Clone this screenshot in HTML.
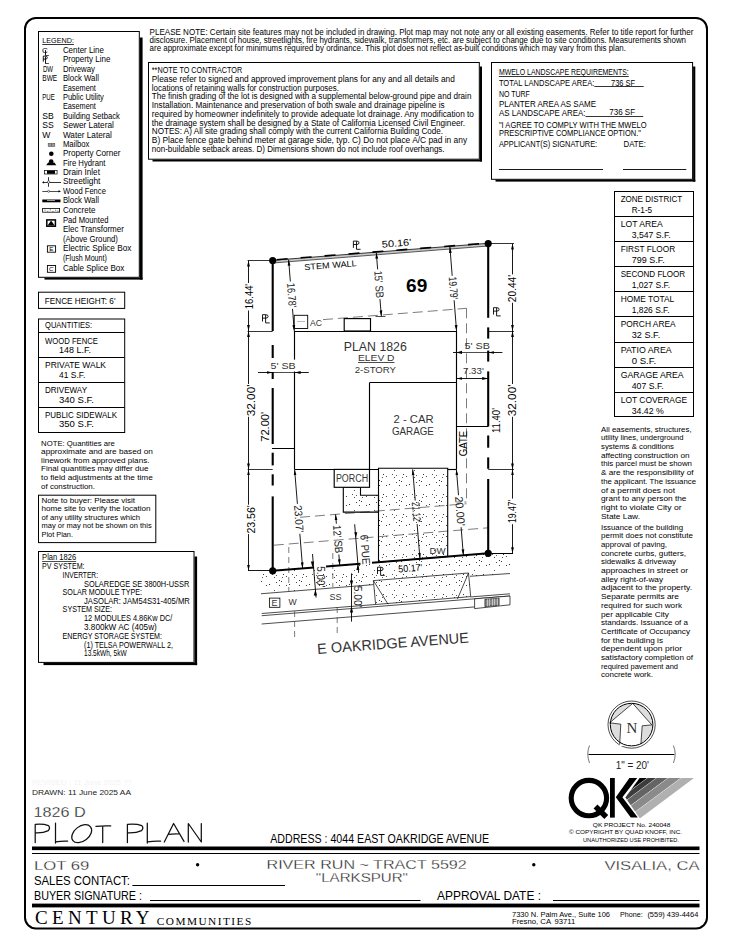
<!DOCTYPE html>
<html><head><meta charset="utf-8"><style>
html,body{margin:0;padding:0;background:#fff;}
svg{display:block;}
text{font-family:"Liberation Sans", sans-serif;}
</style></head><body>
<svg width="731" height="948" viewBox="0 0 731 948">
<defs>
<pattern id="stip" width="20" height="20" patternUnits="userSpaceOnUse">
<rect x="3" y="14" width="1" height="1" fill="#333"/><rect x="2" y="17" width="1" height="1" fill="#555"/><rect x="6" y="5" width="1" height="1" fill="#444"/><rect x="14" y="17" width="1" height="1" fill="#444"/><rect x="1" y="1" width="1" height="1" fill="#333"/><rect x="14" y="10" width="1" height="1" fill="#555"/><rect x="19" y="0" width="1" height="1" fill="#333"/><rect x="16" y="2" width="1" height="1" fill="#444"/><rect x="16" y="15" width="1" height="1" fill="#555"/><rect x="6" y="16" width="1" height="1" fill="#444"/><rect x="19" y="5" width="1" height="1" fill="#444"/><rect x="12" y="14" width="1" height="1" fill="#555"/><rect x="9" y="4" width="1" height="1" fill="#333"/>
</pattern>
<marker id="ar" viewBox="0 0 6 4" refX="6" refY="2" markerWidth="6" markerHeight="4" markerUnits="userSpaceOnUse" orient="auto-start-reverse"><path d="M0,0.6 L6,2 L0,3.4 z" fill="#000"/></marker>
</defs>
<rect x="25" y="18" width="682" height="910.5" rx="11" ry="11" fill="none" stroke="#000" stroke-width="2"/>
<text x="149.60" y="34.90" font-size="8.3" textLength="543.80" lengthAdjust="spacingAndGlyphs" >PLEASE NOTE:  Certain site features may not be included in drawing.  Plot map may not note any or all existing easements. Refer to title report for further</text>
<text x="149.60" y="43.30" font-size="8.3" textLength="536.40" lengthAdjust="spacingAndGlyphs" >disclosure.  Placement of house, streetlights, fire hydrants, sidewalk, transformers, etc. are subject to change due to site conditions.  Measurements shown</text>
<text x="149.60" y="51.20" font-size="8.3" textLength="476.30" lengthAdjust="spacingAndGlyphs" >are approximate except for minimums required by ordinance.  This plot does not reflect as-built conditions which may vary from this plan.</text>
<rect x="148.50" y="62.50" width="330.80" height="96.70" fill="#fff" stroke="#000" stroke-width="1" />
<rect x="479.80" y="66.50" width="2.20" height="95.00" fill="#000"/>
<rect x="152.50" y="159.70" width="329.50" height="1.80" fill="#000"/>
<text x="151.80" y="73.10" font-size="8.3" textLength="90.40" lengthAdjust="spacingAndGlyphs" >**NOTE TO CONTRACTOR</text>
<text x="151.80" y="81.70" font-size="8.3" textLength="303.00" lengthAdjust="spacingAndGlyphs" >Please refer to signed and approved improvement plans for any and all details and</text>
<text x="151.80" y="90.60" font-size="8.3" textLength="187.20" lengthAdjust="spacingAndGlyphs" >locations of retaining walls for construction purposes.</text>
<text x="151.80" y="99.40" font-size="8.3" textLength="319.60" lengthAdjust="spacingAndGlyphs" >The finish grading of the lot is designed with a supplemental below-ground pipe and drain</text>
<text x="151.80" y="108.10" font-size="8.3" textLength="292.80" lengthAdjust="spacingAndGlyphs" >Installation.  Maintenance and preservation of both swale and drainage pipeline is</text>
<text x="151.80" y="116.80" font-size="8.3" textLength="322.10" lengthAdjust="spacingAndGlyphs" >required by homeowner indefinitely to provide adequate lot drainage.  Any modification to</text>
<text x="151.80" y="125.60" font-size="8.3" textLength="313.20" lengthAdjust="spacingAndGlyphs" >the drainage system shall be designed by a State of California Licensed Civil Engineer.</text>
<text x="151.80" y="134.30" font-size="8.3" textLength="291.30" lengthAdjust="spacingAndGlyphs" >NOTES:  A) All site grading shall comply with the current California Building Code.</text>
<text x="151.80" y="143.40" font-size="8.3" textLength="315.30" lengthAdjust="spacingAndGlyphs" >B) Place fence gate behind meter at garage side, typ.  C) Do not place A/C pad in any</text>
<text x="151.80" y="152.40" font-size="8.3" textLength="292.80" lengthAdjust="spacingAndGlyphs" >non-buildable setback areas.  D) Dimensions shown do not include roof overhangs.</text>
<rect x="491.50" y="62.50" width="201.10" height="116.80" fill="#fff" stroke="#000" stroke-width="1" />
<rect x="693.10" y="66.50" width="2.20" height="115.10" fill="#000"/>
<rect x="495.50" y="179.80" width="199.80" height="1.80" fill="#000"/>
<text x="498.90" y="75.20" font-size="8.5" textLength="129.90" lengthAdjust="spacingAndGlyphs" >MWELO LANDSCAPE REQUIREMENTS:</text>
<line x1="498.90" y1="76.50" x2="628.80" y2="76.50" stroke="#000" stroke-width="0.8" />
<text x="498.90" y="86.20" font-size="8.5" textLength="95.40" lengthAdjust="spacingAndGlyphs" >TOTAL LANDSCAPE AREA:</text>
<line x1="594.30" y1="86.50" x2="643.70" y2="86.50" stroke="#000" stroke-width="0.8" />
<text x="611.00" y="85.60" font-size="8.5" textLength="24.00" lengthAdjust="spacingAndGlyphs" >736 SF</text>
<text x="498.90" y="96.80" font-size="8.5" textLength="31.00" lengthAdjust="spacingAndGlyphs" >NO TURF</text>
<text x="498.90" y="107.40" font-size="8.5" textLength="97.10" lengthAdjust="spacingAndGlyphs" >PLANTER AREA AS SAME</text>
<text x="498.90" y="115.50" font-size="8.5" textLength="86.60" lengthAdjust="spacingAndGlyphs" >AS LANDSCAPE AREA:</text>
<line x1="585.50" y1="116.50" x2="643.20" y2="116.50" stroke="#000" stroke-width="0.8" />
<text x="609.30" y="115.00" font-size="8.5" textLength="25.80" lengthAdjust="spacingAndGlyphs" >736 SF</text>
<text x="498.90" y="127.50" font-size="8.5" textLength="147.70" lengthAdjust="spacingAndGlyphs" >"I AGREE TO COMPLY WITH THE MWELO</text>
<text x="498.90" y="136.20" font-size="8.5" textLength="142.00" lengthAdjust="spacingAndGlyphs" >PRESCRIPTIVE COMPLIANCE OPTION."</text>
<text x="498.90" y="147.10" font-size="8.5" textLength="98.30" lengthAdjust="spacingAndGlyphs" >APPLICANT(S) SIGNATURE:</text>
<text x="623.60" y="147.10" font-size="8.5" textLength="22.40" lengthAdjust="spacingAndGlyphs" >DATE:</text>
<line x1="498.90" y1="169.50" x2="603.00" y2="169.50" stroke="#000" stroke-width="0.9" />
<line x1="623.00" y1="169.50" x2="686.30" y2="169.50" stroke="#000" stroke-width="0.9" />
<rect x="38.50" y="31.50" width="100.80" height="245.80" fill="#fff" stroke="#000" stroke-width="1" />
<rect x="139.80" y="37.50" width="2.80" height="242.10" fill="#000"/>
<rect x="44.50" y="277.80" width="98.10" height="1.80" fill="#000"/>
<text x="42.30" y="43.00" font-size="7.8" textLength="31.60" lengthAdjust="spacingAndGlyphs" >LEGEND:</text>
<line x1="42.30" y1="44.50" x2="73.90" y2="44.50" stroke="#000" stroke-width="0.8" />
<text x="41.90" y="52.80" font-size="8" >C</text>
<line x1="45.50" y1="50.10" x2="45.50" y2="55.50" stroke="#000" stroke-width="0.9" />
<line x1="45.50" y1="55.50" x2="48.90" y2="55.50" stroke="#000" stroke-width="0.7" />
<text x="62.90" y="52.80" font-size="8.6" textLength="41.00" lengthAdjust="spacingAndGlyphs" >Center Line</text>
<path d="M43.3,61.699999999999996 V56.099999999999994 H45.5 Q47.3,56.099999999999994 47.3,57.599999999999994 Q47.3,59.099999999999994 45.5,59.099999999999994 H43.3" fill="none" stroke="#000" stroke-width="0.9"/>
<line x1="45.50" y1="56.50" x2="45.50" y2="63.70" stroke="#000" stroke-width="0.9" />
<line x1="45.50" y1="63.50" x2="48.90" y2="63.50" stroke="#000" stroke-width="0.7" />
<text x="62.90" y="62.30" font-size="8.6" textLength="47.50" lengthAdjust="spacingAndGlyphs" >Property Line</text>
<text x="42.90" y="71.60" font-size="8.6" textLength="10.10" lengthAdjust="spacingAndGlyphs" >DW</text>
<text x="62.90" y="71.60" font-size="8.6" textLength="32.00" lengthAdjust="spacingAndGlyphs" >Driveway</text>
<text x="42.30" y="81.00" font-size="8.6" textLength="14.80" lengthAdjust="spacingAndGlyphs" >BWE</text>
<text x="62.90" y="81.00" font-size="8.6" textLength="36.00" lengthAdjust="spacingAndGlyphs" >Block Wall</text>
<text x="62.90" y="90.50" font-size="8.6" textLength="33.00" lengthAdjust="spacingAndGlyphs" >Easement</text>
<text x="42.30" y="99.90" font-size="8.6" textLength="12.50" lengthAdjust="spacingAndGlyphs" >PUE</text>
<text x="62.90" y="99.90" font-size="8.6" textLength="41.00" lengthAdjust="spacingAndGlyphs" >Public Utility</text>
<text x="62.90" y="109.30" font-size="8.6" textLength="33.00" lengthAdjust="spacingAndGlyphs" >Easement</text>
<text x="42.30" y="118.60" font-size="8.6" >SB</text>
<text x="62.90" y="118.60" font-size="8.6" textLength="57.00" lengthAdjust="spacingAndGlyphs" >Building Setback</text>
<text x="42.30" y="128.10" font-size="8.6" >SS</text>
<text x="62.90" y="128.10" font-size="8.6" textLength="51.00" lengthAdjust="spacingAndGlyphs" >Sewer Lateral</text>
<text x="42.30" y="137.60" font-size="8.6" >W</text>
<text x="62.90" y="137.60" font-size="8.6" textLength="49.00" lengthAdjust="spacingAndGlyphs" >Water Lateral</text>
<text x="62.90" y="146.90" font-size="8.6" textLength="26.50" lengthAdjust="spacingAndGlyphs" >Mailbox</text>
<text x="62.90" y="156.20" font-size="8.6" textLength="57.50" lengthAdjust="spacingAndGlyphs" >Property Corner</text>
<text x="62.90" y="165.60" font-size="8.6" textLength="42.50" lengthAdjust="spacingAndGlyphs" >Fire Hydrant</text>
<text x="62.90" y="174.80" font-size="8.6" textLength="37.00" lengthAdjust="spacingAndGlyphs" >Drain Inlet</text>
<text x="62.90" y="184.30" font-size="8.6" textLength="37.50" lengthAdjust="spacingAndGlyphs" >Streetlight</text>
<text x="62.90" y="193.60" font-size="8.6" textLength="43.00" lengthAdjust="spacingAndGlyphs" >Wood Fence</text>
<text x="62.90" y="203.20" font-size="8.6" textLength="36.00" lengthAdjust="spacingAndGlyphs" >Block Wall</text>
<text x="62.90" y="212.50" font-size="8.6" textLength="32.50" lengthAdjust="spacingAndGlyphs" >Concrete</text>
<text x="62.90" y="222.50" font-size="8.6" textLength="45.50" lengthAdjust="spacingAndGlyphs" >Pad Mounted</text>
<text x="62.90" y="232.00" font-size="8.6" textLength="61.00" lengthAdjust="spacingAndGlyphs" >Elec Transformer</text>
<text x="62.90" y="241.50" font-size="8.6" textLength="55.00" lengthAdjust="spacingAndGlyphs" >(Above Ground)</text>
<text x="62.90" y="251.10" font-size="8.6" textLength="68.50" lengthAdjust="spacingAndGlyphs" >Electric Splice Box</text>
<text x="62.90" y="260.90" font-size="8.6" textLength="44.00" lengthAdjust="spacingAndGlyphs" >(Flush Mount)</text>
<text x="62.90" y="270.70" font-size="8.6" textLength="61.50" lengthAdjust="spacingAndGlyphs" >Cable Splice Box</text>
<rect x="48.20" y="143.40" width="6.60" height="3.00" fill="#999" stroke="#555" stroke-width="0.6" />
<line x1="51.50" y1="143.40" x2="51.50" y2="146.40" stroke="#444" stroke-width="0.5" />
<circle cx="51.30" cy="153.80" r="2.30" fill="#000" stroke="none" stroke-width="1"/>
<circle cx="51.20" cy="161.60" r="2.30" fill="#000" stroke="none" stroke-width="1"/>
<polygon points="46.20,165.20 56.30,165.20 54.40,162.60 48.10,162.60" fill="#000" stroke="none" stroke-width="1" />
<rect x="44.50" y="170.40" width="12.60" height="3.60" fill="#fff" stroke="#000" stroke-width="0.7" />
<rect x="47.00" y="170.60" width="8.00" height="3.20" fill="#000"/>
<line x1="42.30" y1="182.50" x2="61.00" y2="182.50" stroke="#000" stroke-width="0.8" />
<line x1="48.50" y1="177.20" x2="48.50" y2="186.80" stroke="#000" stroke-width="0.8" />
<circle cx="48.60" cy="182.00" r="1.20" fill="#fff" stroke="#000" stroke-width="0.5"/>
<line x1="43.50" y1="181.00" x2="43.50" y2="183.50" stroke="#000" stroke-width="0.6" />
<line x1="42.30" y1="191.50" x2="60.00" y2="191.50" stroke="#000" stroke-width="0.7" />
<circle cx="48.60" cy="191.30" r="1.00" fill="#fff" stroke="#000" stroke-width="0.5"/>
<polygon points="61.00,191.30 58.50,190.20 58.50,192.40" fill="#000" stroke="none" stroke-width="1" />
<rect x="42.30" y="199.50" width="18.20" height="2.80" fill="#000"/>
<line x1="47.00" y1="200.50" x2="55.00" y2="200.50" stroke="#fff" stroke-width="0.6" />
<rect x="42.60" y="208.50" width="17.00" height="3.70" fill="#fff" stroke="#000" stroke-width="0.8" />
<rect x="44.50" y="209.60" width="1.10" height="0.90" fill="#555"/>
<rect x="47.20" y="210.80" width="1.10" height="0.90" fill="#555"/>
<rect x="49.80" y="209.40" width="1.10" height="0.90" fill="#555"/>
<rect x="52.50" y="210.90" width="1.10" height="0.90" fill="#555"/>
<rect x="55.10" y="209.70" width="1.10" height="0.90" fill="#555"/>
<rect x="57.40" y="210.60" width="1.10" height="0.90" fill="#555"/>
<rect x="46.80" y="219.90" width="8.60" height="6.30" fill="#fff" stroke="#000" stroke-width="1.5" />
<polygon points="47.60,225.60 51.10,220.40 54.60,225.60" fill="#000" stroke="none" stroke-width="1" />
<rect x="47.40" y="245.80" width="8.20" height="6.40" fill="#fff" stroke="#000" stroke-width="0.9" />
<text x="49.20" y="251.20" font-size="6.2" >E</text>
<rect x="47.40" y="265.50" width="8.20" height="6.80" fill="#fff" stroke="#000" stroke-width="0.9" />
<text x="49.00" y="271.00" font-size="6.2" font-style="italic" >C</text>
<rect x="38.50" y="292.20" width="86.20" height="16.20" fill="none" stroke="#000" stroke-width="1" />
<text x="44.80" y="303.70" font-size="8.2" textLength="70.70" lengthAdjust="spacingAndGlyphs" >FENCE HEIGHT: 6'</text>
<rect x="38.50" y="319.00" width="86.20" height="113.50" fill="none" stroke="#000" stroke-width="1" />
<line x1="38.50" y1="332.50" x2="124.70" y2="332.50" stroke="#000" stroke-width="1" />
<line x1="38.50" y1="357.50" x2="124.70" y2="357.50" stroke="#000" stroke-width="1" />
<line x1="38.50" y1="382.50" x2="124.70" y2="382.50" stroke="#000" stroke-width="1" />
<line x1="38.50" y1="407.50" x2="124.70" y2="407.50" stroke="#000" stroke-width="1" />
<text x="45.10" y="328.00" font-size="8.2" textLength="47.00" lengthAdjust="spacingAndGlyphs" >QUANTITIES:</text>
<text x="45.00" y="343.50" font-size="8.2" textLength="53.00" lengthAdjust="spacingAndGlyphs" >WOOD FENCE</text>
<text x="59.00" y="352.70" font-size="8.2" textLength="32.00" lengthAdjust="spacingAndGlyphs" >148 L.F.</text>
<text x="45.00" y="368.00" font-size="8.2" textLength="61.00" lengthAdjust="spacingAndGlyphs" >PRIVATE WALK</text>
<text x="59.00" y="377.60" font-size="8.2" textLength="26.40" lengthAdjust="spacingAndGlyphs" >41 S.F.</text>
<text x="45.00" y="393.00" font-size="8.2" textLength="42.00" lengthAdjust="spacingAndGlyphs" >DRIVEWAY</text>
<text x="59.00" y="402.60" font-size="8.2" textLength="35.00" lengthAdjust="spacingAndGlyphs" >340 S.F.</text>
<text x="45.00" y="417.60" font-size="8.2" textLength="72.00" lengthAdjust="spacingAndGlyphs" >PUBLIC SIDEWALK</text>
<text x="59.00" y="427.10" font-size="8.2" textLength="35.00" lengthAdjust="spacingAndGlyphs" >350 S.F.</text>
<text x="41.10" y="445.90" font-size="7.6" textLength="73.80" lengthAdjust="spacingAndGlyphs" >NOTE: Quantities are</text>
<text x="41.10" y="454.30" font-size="7.6" textLength="111.70" lengthAdjust="spacingAndGlyphs" >approximate and are based on</text>
<text x="41.10" y="462.70" font-size="7.6" textLength="108.40" lengthAdjust="spacingAndGlyphs" >linework from approved plans.</text>
<text x="41.10" y="471.40" font-size="7.6" textLength="107.40" lengthAdjust="spacingAndGlyphs" >Final quantities may differ due</text>
<text x="41.10" y="480.00" font-size="7.6" textLength="111.70" lengthAdjust="spacingAndGlyphs" >to field adjustments at the time</text>
<text x="41.10" y="488.60" font-size="7.6" textLength="53.90" lengthAdjust="spacingAndGlyphs" >of construction.</text>
<rect x="38.50" y="495.20" width="117.30" height="47.40" fill="none" stroke="#000" stroke-width="1" />
<text x="41.50" y="502.80" font-size="7.6" textLength="93.50" lengthAdjust="spacingAndGlyphs" >Note to buyer: Please visit</text>
<text x="41.50" y="511.20" font-size="7.6" textLength="109.00" lengthAdjust="spacingAndGlyphs" >home site to verify the location</text>
<text x="41.50" y="519.60" font-size="7.6" textLength="98.50" lengthAdjust="spacingAndGlyphs" >of any utility structures which</text>
<text x="41.50" y="528.00" font-size="7.6" textLength="110.20" lengthAdjust="spacingAndGlyphs" >may or may not be shown on this</text>
<text x="41.50" y="536.60" font-size="7.6" textLength="31.50" lengthAdjust="spacingAndGlyphs" >Plot Plan.</text>
<rect x="38.50" y="551.50" width="155.50" height="110.90" fill="#fff" stroke="#000" stroke-width="1" />
<rect x="194.50" y="556.50" width="2.60" height="108.60" fill="#000"/>
<rect x="43.50" y="662.90" width="153.60" height="2.20" fill="#000"/>
<text x="42.10" y="560.10" font-size="8.2" textLength="34.00" lengthAdjust="spacingAndGlyphs" >Plan 1826</text>
<line x1="42.10" y1="561.50" x2="76.20" y2="561.50" stroke="#000" stroke-width="0.7" />
<text x="42.10" y="569.40" font-size="8.2" textLength="42.40" lengthAdjust="spacingAndGlyphs" >PV SYSTEM:</text>
<text x="62.60" y="577.60" font-size="8.2" textLength="35.40" lengthAdjust="spacingAndGlyphs" >INVERTER:</text>
<text x="84.00" y="586.90" font-size="8.2" textLength="105.30" lengthAdjust="spacingAndGlyphs" >SOLAREDGE SE 3800H-USSR</text>
<text x="62.60" y="595.20" font-size="8.2" textLength="79.40" lengthAdjust="spacingAndGlyphs" >SOLAR MODULE TYPE:</text>
<text x="84.00" y="603.70" font-size="8.2" textLength="105.80" lengthAdjust="spacingAndGlyphs" >JASOLAR: JAM54S31-405/MR</text>
<text x="62.60" y="612.40" font-size="8.2" textLength="49.40" lengthAdjust="spacingAndGlyphs" >SYSTEM SIZE:</text>
<text x="84.00" y="621.20" font-size="8.2" textLength="88.40" lengthAdjust="spacingAndGlyphs" >12 MODULES 4.86Kw DC/</text>
<text x="84.00" y="629.80" font-size="8.2" textLength="72.80" lengthAdjust="spacingAndGlyphs" >3.800kW AC (405w)</text>
<text x="62.60" y="639.00" font-size="8.2" textLength="99.40" lengthAdjust="spacingAndGlyphs" >ENERGY STORAGE SYSTEM:</text>
<text x="84.00" y="647.60" font-size="8.2" textLength="89.00" lengthAdjust="spacingAndGlyphs" >(1) TELSA POWERWALL 2,</text>
<text x="84.00" y="656.20" font-size="8.2" textLength="42.60" lengthAdjust="spacingAndGlyphs" >13.5kWh, 5kW</text>
<rect x="614.50" y="191.50" width="79.00" height="225.00" fill="none" stroke="#000" stroke-width="1" />
<text x="620.70" y="202.40" font-size="8.2" textLength="61.50" lengthAdjust="spacingAndGlyphs" >ZONE DISTRICT</text>
<text x="631.70" y="213.10" font-size="8.2" textLength="20.50" lengthAdjust="spacingAndGlyphs" >R-1-5</text>
<line x1="614.50" y1="216.50" x2="693.60" y2="216.50" stroke="#000" stroke-width="1" />
<text x="620.70" y="227.40" font-size="8.2" textLength="42.00" lengthAdjust="spacingAndGlyphs" >LOT AREA</text>
<text x="631.70" y="238.10" font-size="8.2" textLength="39.00" lengthAdjust="spacingAndGlyphs" >3,547 S.F.</text>
<line x1="614.50" y1="241.50" x2="693.60" y2="241.50" stroke="#000" stroke-width="1" />
<text x="620.70" y="252.40" font-size="8.2" textLength="54.50" lengthAdjust="spacingAndGlyphs" >FIRST FLOOR</text>
<text x="631.70" y="263.10" font-size="8.2" textLength="33.00" lengthAdjust="spacingAndGlyphs" >799 S.F.</text>
<line x1="614.50" y1="266.50" x2="693.60" y2="266.50" stroke="#000" stroke-width="1" />
<text x="620.70" y="277.40" font-size="8.2" textLength="64.50" lengthAdjust="spacingAndGlyphs" >SECOND FLOOR</text>
<text x="631.70" y="288.10" font-size="8.2" textLength="38.50" lengthAdjust="spacingAndGlyphs" >1,027 S.F.</text>
<line x1="614.50" y1="291.50" x2="693.60" y2="291.50" stroke="#000" stroke-width="1" />
<text x="620.70" y="302.40" font-size="8.2" textLength="53.50" lengthAdjust="spacingAndGlyphs" >HOME TOTAL</text>
<text x="631.70" y="313.10" font-size="8.2" textLength="38.00" lengthAdjust="spacingAndGlyphs" >1,826 S.F.</text>
<line x1="614.50" y1="316.50" x2="693.60" y2="316.50" stroke="#000" stroke-width="1" />
<text x="620.70" y="327.40" font-size="8.2" textLength="55.00" lengthAdjust="spacingAndGlyphs" >PORCH AREA</text>
<text x="631.70" y="338.10" font-size="8.2" textLength="28.50" lengthAdjust="spacingAndGlyphs" >32 S.F.</text>
<line x1="614.50" y1="342.50" x2="693.60" y2="342.50" stroke="#000" stroke-width="1" />
<text x="620.70" y="353.40" font-size="8.2" textLength="51.00" lengthAdjust="spacingAndGlyphs" >PATIO AREA</text>
<text x="631.70" y="364.10" font-size="8.2" textLength="24.50" lengthAdjust="spacingAndGlyphs" >0 S.F.</text>
<line x1="614.50" y1="367.50" x2="693.60" y2="367.50" stroke="#000" stroke-width="1" />
<text x="620.70" y="378.40" font-size="8.2" textLength="63.00" lengthAdjust="spacingAndGlyphs" >GARAGE AREA</text>
<text x="631.70" y="389.10" font-size="8.2" textLength="32.00" lengthAdjust="spacingAndGlyphs" >407 S.F.</text>
<line x1="614.50" y1="392.50" x2="693.60" y2="392.50" stroke="#000" stroke-width="1" />
<text x="620.70" y="403.40" font-size="8.2" textLength="66.50" lengthAdjust="spacingAndGlyphs" >LOT COVERAGE</text>
<text x="631.70" y="414.10" font-size="8.2" textLength="32.00" lengthAdjust="spacingAndGlyphs" >34.42 %</text>
<text x="601.00" y="431.70" font-size="7.8" textLength="90.60" lengthAdjust="spacingAndGlyphs" >All easements, structures,</text>
<text x="601.00" y="440.39" font-size="7.8" textLength="82.50" lengthAdjust="spacingAndGlyphs" >utility lines, underground</text>
<text x="601.00" y="449.08" font-size="7.8" textLength="73.00" lengthAdjust="spacingAndGlyphs" >systems &amp; conditions</text>
<text x="601.00" y="457.77" font-size="7.8" textLength="88.50" lengthAdjust="spacingAndGlyphs" >affecting construction on</text>
<text x="601.00" y="466.46" font-size="7.8" textLength="91.00" lengthAdjust="spacingAndGlyphs" >this parcel must be shown</text>
<text x="601.00" y="475.15" font-size="7.8" textLength="92.50" lengthAdjust="spacingAndGlyphs" >&amp; are the responsibility of</text>
<text x="601.00" y="483.84" font-size="7.8" textLength="95.00" lengthAdjust="spacingAndGlyphs" >the applicant. The issuance</text>
<text x="601.00" y="492.53" font-size="7.8" textLength="74.00" lengthAdjust="spacingAndGlyphs" >of a permit does not</text>
<text x="601.00" y="501.22" font-size="7.8" textLength="85.50" lengthAdjust="spacingAndGlyphs" >grant to any person the</text>
<text x="601.00" y="509.91" font-size="7.8" textLength="80.50" lengthAdjust="spacingAndGlyphs" >right to violate City or</text>
<text x="601.00" y="518.60" font-size="7.8" textLength="39.00" lengthAdjust="spacingAndGlyphs" >State Law.</text>
<text x="601.00" y="529.60" font-size="7.8" textLength="82.00" lengthAdjust="spacingAndGlyphs" >Issuance of the building</text>
<text x="601.00" y="538.29" font-size="7.8" textLength="92.00" lengthAdjust="spacingAndGlyphs" >permit does not constitute</text>
<text x="601.00" y="546.98" font-size="7.8" textLength="66.00" lengthAdjust="spacingAndGlyphs" >approval of paving,</text>
<text x="601.00" y="555.67" font-size="7.8" textLength="85.00" lengthAdjust="spacingAndGlyphs" >concrete curbs, gutters,</text>
<text x="601.00" y="564.36" font-size="7.8" textLength="75.00" lengthAdjust="spacingAndGlyphs" >sidewalks &amp; driveway</text>
<text x="601.00" y="573.05" font-size="7.8" textLength="87.00" lengthAdjust="spacingAndGlyphs" >approaches in street or</text>
<text x="601.00" y="581.74" font-size="7.8" textLength="62.00" lengthAdjust="spacingAndGlyphs" >alley right-of-way</text>
<text x="601.00" y="590.43" font-size="7.8" textLength="91.00" lengthAdjust="spacingAndGlyphs" >adjacent to the property.</text>
<text x="601.00" y="599.12" font-size="7.8" textLength="78.00" lengthAdjust="spacingAndGlyphs" >Separate permits are</text>
<text x="601.00" y="607.81" font-size="7.8" textLength="81.00" lengthAdjust="spacingAndGlyphs" >required for such work</text>
<text x="601.00" y="616.50" font-size="7.8" textLength="68.00" lengthAdjust="spacingAndGlyphs" >per applicable City</text>
<text x="601.00" y="625.19" font-size="7.8" textLength="87.00" lengthAdjust="spacingAndGlyphs" >standards. Issuance of a</text>
<text x="601.00" y="633.88" font-size="7.8" textLength="89.00" lengthAdjust="spacingAndGlyphs" >Certificate of Occupancy</text>
<text x="601.00" y="642.57" font-size="7.8" textLength="62.00" lengthAdjust="spacingAndGlyphs" >for the building is</text>
<text x="601.00" y="651.26" font-size="7.8" textLength="81.00" lengthAdjust="spacingAndGlyphs" >dependent upon prior</text>
<text x="601.00" y="659.95" font-size="7.8" textLength="92.00" lengthAdjust="spacingAndGlyphs" >satisfactory completion of</text>
<text x="601.00" y="668.64" font-size="7.8" textLength="77.00" lengthAdjust="spacingAndGlyphs" >required pavement and</text>
<text x="601.00" y="677.33" font-size="7.8" textLength="52.00" lengthAdjust="spacingAndGlyphs" >concrete work.</text>
<circle cx="631.60" cy="724.60" r="23.60" fill="#fff" stroke="#000" stroke-width="0.7"/>
<circle cx="631.60" cy="724.60" r="21.30" fill="#ddd" stroke="none" stroke-width="1"/>
<polygon points="632.70,703.40 651.80,724.90 642.20,725.80 640.90,746.00 619.70,746.00 620.80,724.20 609.60,722.80" fill="#fff" stroke="none" stroke-width="1" />
<polyline points="619.70,744.20 620.80,724.20 609.60,722.80 632.70,703.40 651.80,724.90 642.20,725.80 640.90,744.20" fill="none" stroke="#000" stroke-width="0.7" />
<circle cx="631.60" cy="724.60" r="21.30" fill="none" stroke="#000" stroke-width="1.0"/>
<text x="632.00" y="733.40" font-size="15" text-anchor="middle" style='font-family:"Liberation Serif", serif' fill="#333" >N</text>
<line x1="588.50" y1="754.50" x2="674.40" y2="754.50" stroke="#000" stroke-width="1" />
<path d="M589.5,745.5 Q586,754 589.5,763" fill="none" stroke="#555" stroke-width="0.8"/>
<path d="M673.4,745.5 Q677,754 673.4,763" fill="none" stroke="#555" stroke-width="0.8"/>
<text x="615.80" y="768.80" font-size="10.5" textLength="33.20" lengthAdjust="spacingAndGlyphs" fill="#222" >1" = 20'</text>
<circle cx="588.90" cy="798.10" r="17.70" fill="none" stroke="#000" stroke-width="5.1"/>
<line x1="595.5" y1="806.5" x2="606.3" y2="817" stroke="#000" stroke-width="5.5"/>
<rect x="610.00" y="778.00" width="4.80" height="39.60" fill="#000"/>
<polygon points="629.40,778.00 637.20,778.00 622.40,797.20 637.80,817.60 630.80,817.60 615.80,797.20" fill="#000" stroke="none" stroke-width="1" />
<clipPath id="qkclip"><polygon points="639.6,778 694,778 640.5,818 639.6,818 625.4,797.6"/></clipPath>
<g clip-path="url(#qkclip)">
<polygon points="630.00,778.00 647.00,778.00 593.00,818.00 576.00,818.00" fill="#050505" stroke="none" stroke-width="1" />
<polygon points="647.60,778.00 656.00,778.00 602.00,818.00 593.60,818.00" fill="#3c3c3c" stroke="none" stroke-width="1" />
<polygon points="656.60,778.00 667.60,778.00 613.60,818.00 602.60,818.00" fill="#646464" stroke="none" stroke-width="1" />
<polygon points="668.20,778.00 680.60,778.00 626.60,818.00 614.20,818.00" fill="#8a8a8a" stroke="none" stroke-width="1" />
<polygon points="681.20,778.00 700.00,778.00 646.00,818.00 627.20,818.00" fill="#b0b0b0" stroke="none" stroke-width="1" />
</g>
<text x="592.80" y="826.90" font-size="6.2" textLength="77.60" lengthAdjust="spacingAndGlyphs" >QK PROJECT No. 240048</text>
<text x="569.00" y="834.40" font-size="6.2" textLength="113.00" lengthAdjust="spacingAndGlyphs" >©   COPYRIGHT BY QUAD KNOFF, INC.</text>
<text x="583.00" y="841.80" font-size="6.2" textLength="96.00" lengthAdjust="spacingAndGlyphs" >UNAUTHORIZED USE PROHIBITED.</text>
<text x="32.00" y="785.30" font-size="7.4" textLength="100.00" lengthAdjust="spacingAndGlyphs" fill="#f3f3f3" >REVISED : 11 June 2025  ??</text>
<text x="32.00" y="794.80" font-size="7.4" textLength="99.00" lengthAdjust="spacingAndGlyphs" fill="#222" >DRAWN: 11 June 2025  AA</text>
<text x="33.40" y="817.00" font-size="14.5" textLength="52.20" lengthAdjust="spacingAndGlyphs" fill="#111" stroke="#fff" stroke-width="0.3">1826  D</text>
<g fill="none" stroke="#111" stroke-width="1.25" stroke-linecap="round" stroke-linejoin="round"><path d="M35.2,842.6 V824.4 Q43,823.6 48.5,825.6 Q50.6,827.8 48.3,830.6 Q43,833.2 35.4,832.8"/><path d="M55.5,823.2 V843 M55.8,841.8 Q61,841 67.6,841.2"/><ellipse cx="81.7" cy="833.7" rx="11.2" ry="7.4" transform="rotate(-38 81.7 833.7)"/><path d="M95.9,826.3 Q103,825.6 110.7,825.9 M102.7,826.2 V842.6"/><path d="M127.4,842.6 V824.4 Q136,823.6 141.8,825.6 Q144,827.8 141.6,830.6 Q136,833.2 127.6,832.8"/><path d="M147.3,823.2 V843 M147.6,841.8 Q153,841 160.6,841.2"/><path d="M164.3,842 L173.6,823.5 L184,841.4 M168.2,834.4 Q174,833.6 179.6,834"/><path d="M188.3,842 V823.5 L201.3,842 V823.5"/></g>
<text x="270.20" y="842.70" font-size="12.6" textLength="218.80" lengthAdjust="spacingAndGlyphs" >ADDRESS :  4044 EAST OAKRIDGE AVENUE</text>
<rect x="32.00" y="846.50" width="667.50" height="3.60" fill="#000"/>
<line x1="32.00" y1="853.50" x2="699.50" y2="853.50" stroke="#000" stroke-width="1" />
<text x="33.90" y="869.70" font-size="13" textLength="55.40" lengthAdjust="spacingAndGlyphs" fill="#111" stroke="#fff" stroke-width="0.3">LOT 69</text>
<circle cx="197.60" cy="864.80" r="1.70" fill="#000" stroke="none" stroke-width="1"/>
<circle cx="533.80" cy="864.80" r="1.70" fill="#000" stroke="none" stroke-width="1"/>
<text x="266.50" y="868.50" font-size="12.6" textLength="200.30" lengthAdjust="spacingAndGlyphs" fill="#111" stroke="#fff" stroke-width="0.3">RIVER RUN ~ TRACT 5592</text>
<text x="604.40" y="869.80" font-size="13" textLength="95.10" lengthAdjust="spacingAndGlyphs" fill="#111" stroke="#fff" stroke-width="0.3">VISALIA, CA</text>
<text x="315.80" y="881.60" font-size="12.6" textLength="92.20" lengthAdjust="spacingAndGlyphs" fill="#111" stroke="#fff" stroke-width="0.3">"LARKSPUR"</text>
<text x="33.90" y="885.00" font-size="12.4" textLength="96.10" lengthAdjust="spacingAndGlyphs" >SALES CONTACT:</text>
<line x1="132.40" y1="885.50" x2="285.00" y2="885.50" stroke="#000" stroke-width="1" />
<text x="34.00" y="900.40" font-size="12.4" textLength="108.00" lengthAdjust="spacingAndGlyphs" >BUYER SIGNATURE :</text>
<line x1="150.00" y1="900.50" x2="420.50" y2="900.50" stroke="#000" stroke-width="1" />
<text x="437.00" y="900.40" font-size="12.4" textLength="104.00" lengthAdjust="spacingAndGlyphs" >APPROVAL DATE :</text>
<line x1="553.00" y1="900.50" x2="699.50" y2="900.50" stroke="#000" stroke-width="1" />
<rect x="32.00" y="903.60" width="667.50" height="3.80" fill="#000"/>
<text x="35.00" y="924.20" font-size="19" textLength="114.60" lengthAdjust="spacing" style='font-family:"Liberation Serif", serif' >CENTURY</text>
<text x="156.80" y="924.60" font-size="11.3" textLength="94.40" lengthAdjust="spacing" style='font-family:"Liberation Serif", serif' >COMMUNITIES</text>
<text x="512.00" y="916.70" font-size="7.6" textLength="98.00" lengthAdjust="spacingAndGlyphs" >7330 N. Palm Ave., Suite 106</text>
<text x="620.10" y="916.70" font-size="7.6" textLength="22.70" lengthAdjust="spacingAndGlyphs" >Phone:</text>
<text x="647.40" y="916.70" font-size="7.6" textLength="50.90" lengthAdjust="spacingAndGlyphs" >(559) 439-4464</text>
<text x="512.00" y="924.40" font-size="7.6" textLength="39.10" lengthAdjust="spacingAndGlyphs" >Fresno, CA</text>
<text x="554.60" y="924.40" font-size="7.6" textLength="20.70" lengthAdjust="spacingAndGlyphs" >93711</text>
<polygon points="261.00,571.75 510.00,551.53 510.00,573.53 261.00,593.75" fill="url(#stip)" stroke="none" stroke-width="1" />
<line x1="261.00" y1="593.75" x2="373.40" y2="584.62" stroke="#000" stroke-width="0.7" />
<line x1="470.00" y1="576.28" x2="510.00" y2="573.53" stroke="#000" stroke-width="0.7" />
<polygon points="373.40,580.60 468.50,573.00 470.70,596.60 375.60,604.50" fill="url(#stip)" stroke="#000" stroke-width="0.7" />
<line x1="373.40" y1="580.60" x2="388.10" y2="604.30" stroke="#000" stroke-width="0.7" />
<line x1="468.50" y1="573.00" x2="457.50" y2="598.90" stroke="#000" stroke-width="0.7" />
<line x1="261.70" y1="613.50" x2="375.60" y2="604.47" stroke="#000" stroke-width="0.7" />
<line x1="261.70" y1="615.70" x2="510.00" y2="596.01" stroke="#000" stroke-width="0.7" />
<line x1="470.70" y1="596.93" x2="510.00" y2="593.81" stroke="#000" stroke-width="0.7" />
<line x1="261.70" y1="624.00" x2="474.60" y2="606.93" stroke="#000" stroke-width="0.7" />
<polygon points="474.60,598.82 510.00,596.01 510.00,604.81 474.60,608.62" fill="#fff" stroke="#000" stroke-width="0.7" />
<polygon points="484.90,599.30 499.10,598.17 499.10,605.17 484.90,606.60" fill="#888" stroke="#000" stroke-width="0.6" />
<line x1="487.50" y1="599.13" x2="487.50" y2="606.23" stroke="#fff" stroke-width="0.5" />
<line x1="489.50" y1="598.94" x2="489.50" y2="606.04" stroke="#fff" stroke-width="0.5" />
<line x1="492.50" y1="598.74" x2="492.50" y2="605.84" stroke="#fff" stroke-width="0.5" />
<line x1="494.50" y1="598.54" x2="494.50" y2="605.64" stroke="#fff" stroke-width="0.5" />
<line x1="497.50" y1="598.34" x2="497.50" y2="605.44" stroke="#fff" stroke-width="0.5" />
<line x1="288.80" y1="547.00" x2="288.80" y2="592.00" stroke="#444" stroke-width="0.7" stroke-dasharray="6 4"/>
<line x1="294.60" y1="611.00" x2="294.60" y2="640.00" stroke="#444" stroke-width="0.7" stroke-dasharray="6 4"/>
<line x1="332.80" y1="553.00" x2="332.80" y2="587.00" stroke="#444" stroke-width="0.7" stroke-dasharray="6 4"/>
<line x1="337.20" y1="607.00" x2="337.20" y2="636.50" stroke="#444" stroke-width="0.7" stroke-dasharray="6 4"/>
<rect x="269.40" y="598.10" width="10.50" height="9.20" fill="#fff" stroke="#000" stroke-width="0.8" />
<text x="271.60" y="606.00" font-size="8.4" textLength="6.00" lengthAdjust="spacingAndGlyphs" fill="#333" >E</text>
<text x="288.60" y="605.30" font-size="9" textLength="8.20" lengthAdjust="spacingAndGlyphs" fill="#333" >W</text>
<text x="329.60" y="600.30" font-size="9" textLength="12.00" lengthAdjust="spacingAndGlyphs" fill="#333" >SS</text>
<line x1="312.50" y1="554.00" x2="316.04" y2="597.57" stroke="#000" stroke-width="0.9"/>
<path d="M310.9,561.5679814385151 L312.5,567.5679814385151 L314.1,561.5679814385151z" fill="#000"/>
<text transform="translate(321.00,576.80) rotate(90)" x="0" y="0" dy="0.36em" font-size="10.5" text-anchor="middle" textLength="21.00" lengthAdjust="spacingAndGlyphs" fill="#222">5.00'</text>
<path d="M313.79,595.57 L315.39,589.57 L316.99,595.57z" fill="#000"/>
<line x1="351.50" y1="573.40" x2="351.50" y2="621.60" stroke="#000" stroke-width="0.9"/>
<path d="M349.9,580.44 L351.5,586.44 L353.1,580.44z" fill="#000"/>
<path d="M349.9,612.42 L351.5,606.42 L353.1,612.42z" fill="#000"/>
<text transform="translate(357.80,596.70) rotate(90)" x="0" y="0" dy="0.36em" font-size="10.5" text-anchor="middle" textLength="22.00" lengthAdjust="spacingAndGlyphs" fill="#222">5.00'</text>
<text transform="translate(393.4,648.2) rotate(-4.3)" x="0" y="0" font-size="14.6" fill="#333" text-anchor="middle" textLength="152" lengthAdjust="spacingAndGlyphs">E OAKRIDGE AVENUE</text>
<line x1="323.00" y1="319.63" x2="466.50" y2="308.31" stroke="#444" stroke-width="0.7" stroke-dasharray="10 5"/>
<line x1="466.50" y1="308.31" x2="466.50" y2="502.00" stroke="#444" stroke-width="0.7" stroke-dasharray="10 5"/>
<line x1="456.40" y1="502.00" x2="466.50" y2="502.00" stroke="#444" stroke-width="0.7" stroke-dasharray="5 3"/>
<line x1="300.00" y1="517.28" x2="466.50" y2="503.76" stroke="#444" stroke-width="0.7" stroke-dasharray="10 5"/>
<line x1="273.80" y1="545.21" x2="488.20" y2="527.80" stroke="#444" stroke-width="0.7" stroke-dasharray="10 5"/>
<polygon points="378.50,468.30 447.70,468.30 447.70,556.59 378.50,562.21" fill="url(#stip)" stroke="#000" stroke-width="1.1" />
<polygon points="343.30,487.30 360.50,487.30 360.50,495.30 378.50,495.30 378.50,512.10 343.30,512.10" fill="url(#stip)" stroke="#000" stroke-width="1.1" />
<line x1="294.60" y1="331.50" x2="456.40" y2="331.50" stroke="#000" stroke-width="1.15" />
<line x1="294.50" y1="331.00" x2="294.50" y2="359.60" stroke="#000" stroke-width="1.15" />
<line x1="294.50" y1="371.50" x2="294.50" y2="469.40" stroke="#000" stroke-width="1.15" />
<line x1="456.50" y1="331.00" x2="456.50" y2="469.40" stroke="#000" stroke-width="1.15" />
<line x1="294.60" y1="469.50" x2="378.50" y2="469.50" stroke="#000" stroke-width="1.15" />
<line x1="447.70" y1="469.50" x2="456.40" y2="469.50" stroke="#000" stroke-width="1.15" />
<line x1="369.50" y1="382.60" x2="369.50" y2="469.40" stroke="#000" stroke-width="1.15" />
<line x1="369.50" y1="382.50" x2="456.40" y2="382.50" stroke="#000" stroke-width="1.15" />
<rect x="344.20" y="318.60" width="26.30" height="12.40" fill="#fff" stroke="#000" stroke-width="1.15" />
<rect x="294.20" y="315.30" width="13.50" height="13.20" fill="#fff" stroke="#000" stroke-width="0.9" />
<line x1="297.00" y1="321.50" x2="305.00" y2="321.50" stroke="#777" stroke-width="0.5" />
<text x="309.90" y="325.60" font-size="9" textLength="12.00" lengthAdjust="spacingAndGlyphs" fill="#333" >AC</text>
<rect x="334.20" y="469.40" width="35.30" height="17.90" fill="#fff" stroke="#000" stroke-width="1.15" />
<text x="335.90" y="481.60" font-size="10" textLength="32.20" lengthAdjust="spacingAndGlyphs" fill="#333" >PORCH</text>
<text x="343.80" y="350.60" font-size="13" textLength="63.00" lengthAdjust="spacingAndGlyphs" fill="#333" >PLAN 1826</text>
<text x="358.00" y="361.40" font-size="9.2" textLength="36.50" lengthAdjust="spacingAndGlyphs" fill="#333" >ELEV D</text>
<line x1="358.00" y1="362.50" x2="394.50" y2="362.50" stroke="#000" stroke-width="0.7" />
<text x="354.70" y="372.50" font-size="9.2" textLength="41.30" lengthAdjust="spacingAndGlyphs" fill="#333" >2-STORY</text>
<text x="393.60" y="423.00" font-size="10.2" textLength="39.90" lengthAdjust="spacingAndGlyphs" fill="#333" >2 - CAR</text>
<text x="391.90" y="434.60" font-size="10.6" textLength="42.00" lengthAdjust="spacingAndGlyphs" fill="#333" >GARAGE</text>
<text x="406.10" y="292.40" font-size="18.3" textLength="21.20" lengthAdjust="spacingAndGlyphs" font-weight="bold" >69</text>
<text x="429.50" y="554.00" font-size="9.4" textLength="16.00" lengthAdjust="spacingAndGlyphs" fill="#333" >DW</text>
<line x1="272.00" y1="448.50" x2="294.40" y2="448.50" stroke="#000" stroke-width="1" />
<line x1="456.30" y1="426.50" x2="488.00" y2="426.50" stroke="#000" stroke-width="1" />
<polygon points="272.70,260.30 488.20,243.30 488.20,245.90 272.70,262.90" fill="#c8c8c8" stroke="none" stroke-width="1" />
<line x1="272.70" y1="260.30" x2="488.20" y2="243.30" stroke="#222" stroke-width="0.9" />
<line x1="272.70" y1="263.00" x2="488.20" y2="246.00" stroke="#333" stroke-width="0.8" />
<line x1="272.7" y1="260.0" x2="488.2" y2="243.0" stroke="#000" stroke-width="1.6" stroke-dasharray="11 13" stroke-dashoffset="-4"/>
<line x1="272.70" y1="570.80" x2="314.00" y2="567.45" stroke="#000" stroke-width="2" />
<line x1="326.00" y1="566.47" x2="360.50" y2="563.67" stroke="#000" stroke-width="2" />
<line x1="372.00" y1="562.74" x2="488.20" y2="553.30" stroke="#000" stroke-width="2" />
<line x1="248.00" y1="570.50" x2="272.70" y2="570.50" stroke="#000" stroke-width="0.9" />
<line x1="488.20" y1="553.50" x2="513.00" y2="553.50" stroke="#000" stroke-width="1" />
<line x1="272.70" y1="260.60" x2="272.70" y2="331.00" stroke="#000" stroke-width="2.1" />
<line x1="272.70" y1="345.00" x2="272.70" y2="358.00" stroke="#000" stroke-width="2.1" />
<line x1="272.70" y1="372.00" x2="272.70" y2="379.00" stroke="#000" stroke-width="2.1" />
<line x1="272.70" y1="388.00" x2="272.70" y2="444.00" stroke="#000" stroke-width="2.1" />
<line x1="272.70" y1="452.70" x2="272.70" y2="465.40" stroke="#000" stroke-width="2.1" />
<line x1="272.70" y1="474.30" x2="272.70" y2="485.50" stroke="#000" stroke-width="2.1" />
<line x1="272.70" y1="496.40" x2="272.70" y2="570.80" stroke="#000" stroke-width="2.1" />
<line x1="488.20" y1="243.60" x2="488.20" y2="317.80" stroke="#000" stroke-width="2.1" />
<line x1="488.20" y1="327.40" x2="488.20" y2="338.60" stroke="#000" stroke-width="2.1" />
<line x1="488.20" y1="350.60" x2="488.20" y2="361.60" stroke="#000" stroke-width="2.1" />
<line x1="488.20" y1="371.40" x2="488.20" y2="426.60" stroke="#000" stroke-width="2.1" />
<line x1="488.20" y1="435.50" x2="488.20" y2="447.70" stroke="#000" stroke-width="2.1" />
<line x1="488.20" y1="457.40" x2="488.20" y2="468.80" stroke="#000" stroke-width="2.1" />
<line x1="488.20" y1="479.00" x2="488.20" y2="553.30" stroke="#000" stroke-width="2.1" />
<circle cx="272.70" cy="260.60" r="3.60" fill="#000" stroke="none" stroke-width="1"/>
<circle cx="488.20" cy="243.60" r="3.60" fill="#000" stroke="none" stroke-width="1"/>
<circle cx="488.20" cy="553.30" r="3.60" fill="#000" stroke="none" stroke-width="1"/>
<circle cx="272.70" cy="570.80" r="3.60" fill="#000" stroke="none" stroke-width="1"/>
<path d="M353.4,247.9 V241.1 H356.79999999999995 Q359.0,241.1 359.0,242.8 Q359.0,244.5 356.79999999999995,244.5 H353.4" fill="none" stroke="#000" stroke-width="0.9"/>
<path d="M356.5,241.3 V249.3 H360.59999999999997" fill="none" stroke="#000" stroke-width="0.9"/>
<path d="M262.5,321.5 V314.7 H265.9 Q268.1,314.7 268.1,316.4 Q268.1,318.1 265.9,318.1 H262.5" fill="none" stroke="#000" stroke-width="0.9"/>
<path d="M265.6,314.9 V322.9 H269.7" fill="none" stroke="#000" stroke-width="0.9"/>
<path d="M493.5,314.5 V307.7 H496.9 Q499.1,307.7 499.1,309.4 Q499.1,311.1 496.9,311.1 H493.5" fill="none" stroke="#000" stroke-width="0.9"/>
<path d="M496.6,307.9 V315.9 H500.7" fill="none" stroke="#000" stroke-width="0.9"/>
<path d="M377.5,574 V567.2 H380.9 Q383.1,567.2 383.1,568.9 Q383.1,570.6 380.9,570.6 H377.5" fill="none" stroke="#000" stroke-width="0.9"/>
<path d="M380.6,567.4 V575.4 H384.7" fill="none" stroke="#000" stroke-width="0.9"/>
<text transform="translate(330.7,268.2) rotate(-4.51)" x="0" y="0" font-size="8.6" text-anchor="middle" textLength="52.6" lengthAdjust="spacingAndGlyphs">STEM WALL</text>
<text transform="translate(396.8,246.5) rotate(-4.51)" x="0" y="0" font-size="9.6" text-anchor="middle" textLength="29.6" lengthAdjust="spacingAndGlyphs">50.16'</text>
<text transform="translate(410.5,571.5) rotate(-4.64)" x="0" y="0" font-size="9.6" text-anchor="middle" textLength="24" lengthAdjust="spacingAndGlyphs">50.17'</text>
<line x1="247.60" y1="260.50" x2="272.70" y2="260.50" stroke="#000" stroke-width="0.8" />
<line x1="247.60" y1="331.50" x2="272.70" y2="331.50" stroke="#000" stroke-width="0.8" />
<line x1="247.60" y1="469.50" x2="272.70" y2="469.50" stroke="#000" stroke-width="0.8" />
<line x1="248.50" y1="260.60" x2="248.50" y2="283.00" stroke="#000" stroke-width="0.9" marker-start="url(#ar)"/>
<line x1="248.50" y1="310.50" x2="248.50" y2="331.00" stroke="#000" stroke-width="0.9" marker-end="url(#ar)"/>
<line x1="248.50" y1="331.00" x2="248.50" y2="384.00" stroke="#000" stroke-width="0.9" marker-start="url(#ar)"/>
<line x1="248.50" y1="416.80" x2="248.50" y2="469.40" stroke="#000" stroke-width="0.9" marker-end="url(#ar)"/>
<line x1="248.50" y1="469.40" x2="248.50" y2="504.70" stroke="#000" stroke-width="0.9" marker-start="url(#ar)"/>
<line x1="248.50" y1="534.10" x2="248.50" y2="570.80" stroke="#000" stroke-width="0.9" marker-end="url(#ar)"/>
<text transform="translate(249.30,296.50) rotate(-90)" x="0" y="0" dy="0.36em" font-size="11" text-anchor="middle" textLength="25.30" lengthAdjust="spacingAndGlyphs">16.44'</text>
<text transform="translate(250.80,400.40) rotate(-90)" x="0" y="0" dy="0.36em" font-size="11" text-anchor="middle" textLength="31.80" lengthAdjust="spacingAndGlyphs">32.00'</text>
<text transform="translate(250.80,519.40) rotate(-90)" x="0" y="0" dy="0.36em" font-size="11" text-anchor="middle" textLength="28.40" lengthAdjust="spacingAndGlyphs">23.56'</text>
<line x1="488.20" y1="243.50" x2="514.00" y2="243.50" stroke="#000" stroke-width="0.8" />
<line x1="488.20" y1="331.50" x2="514.00" y2="331.50" stroke="#000" stroke-width="0.8" />
<line x1="488.20" y1="469.50" x2="514.00" y2="469.50" stroke="#000" stroke-width="0.8" />
<line x1="512.50" y1="243.60" x2="512.50" y2="274.40" stroke="#000" stroke-width="0.9" marker-start="url(#ar)"/>
<line x1="512.50" y1="302.70" x2="512.50" y2="331.00" stroke="#000" stroke-width="0.9" marker-end="url(#ar)"/>
<line x1="512.50" y1="331.00" x2="512.50" y2="384.00" stroke="#000" stroke-width="0.9" marker-start="url(#ar)"/>
<line x1="512.50" y1="416.80" x2="512.50" y2="469.40" stroke="#000" stroke-width="0.9" marker-end="url(#ar)"/>
<line x1="512.50" y1="469.40" x2="512.50" y2="498.60" stroke="#000" stroke-width="0.9" marker-start="url(#ar)"/>
<line x1="512.50" y1="524.20" x2="512.50" y2="553.30" stroke="#000" stroke-width="0.9" marker-end="url(#ar)"/>
<text transform="translate(511.90,288.50) rotate(-90)" x="0" y="0" dy="0.36em" font-size="11" text-anchor="middle" textLength="27.30" lengthAdjust="spacingAndGlyphs">20.44'</text>
<text transform="translate(511.90,400.40) rotate(-90)" x="0" y="0" dy="0.36em" font-size="11" text-anchor="middle" textLength="31.80" lengthAdjust="spacingAndGlyphs">32.00'</text>
<text transform="translate(511.90,511.40) rotate(-90)" x="0" y="0" dy="0.36em" font-size="11" text-anchor="middle" textLength="23.20" lengthAdjust="spacingAndGlyphs">19.47'</text>
<line x1="288.60" y1="259.65" x2="290.35" y2="281.50" stroke="#000" stroke-width="0.9" marker-start="url(#ar)"/>
<line x1="292.51" y1="308.90" x2="294.25" y2="331.00" stroke="#000" stroke-width="0.9" marker-end="url(#ar)"/>
<text transform="translate(291.83,295.20) rotate(85.48948822764453)" x="0" y="0" dy="0.36em" font-size="11" text-anchor="middle" textLength="24.50" lengthAdjust="spacingAndGlyphs" fill="#222">16.78'</text>
<line x1="376.30" y1="252.73" x2="377.63" y2="269.35" stroke="#000" stroke-width="0.9" marker-start="url(#ar)"/>
<line x1="379.98" y1="299.05" x2="381.35" y2="316.40" stroke="#000" stroke-width="0.9" marker-end="url(#ar)"/>
<text transform="translate(379.21,284.20) rotate(85.48948822764453)" x="0" y="0" dy="0.36em" font-size="11" text-anchor="middle" textLength="27.30" lengthAdjust="spacingAndGlyphs" fill="#222">15' SB</text>
<line x1="375.50" y1="316.50" x2="385.40" y2="316.50" stroke="#000" stroke-width="0.7" />
<line x1="449.90" y1="246.92" x2="452.20" y2="275.80" stroke="#000" stroke-width="0.9" marker-start="url(#ar)"/>
<line x1="454.13" y1="300.20" x2="456.56" y2="331.00" stroke="#000" stroke-width="0.9" marker-end="url(#ar)"/>
<text transform="translate(453.56,288.00) rotate(85.48948822764453)" x="0" y="0" dy="0.36em" font-size="11" text-anchor="middle" textLength="22.50" lengthAdjust="spacingAndGlyphs" fill="#222">19.79'</text>
<line x1="294.60" y1="469.40" x2="297.40" y2="503.85" stroke="#000" stroke-width="0.9" marker-start="url(#ar)"/>
<line x1="299.83" y1="533.75" x2="302.64" y2="568.37" stroke="#000" stroke-width="0.9" marker-end="url(#ar)"/>
<text transform="translate(299.01,518.80) rotate(85.35739780170232)" x="0" y="0" dy="0.36em" font-size="11" text-anchor="middle" textLength="27.50" lengthAdjust="spacingAndGlyphs" fill="#222">23.07'</text>
<line x1="412.70" y1="469.40" x2="415.23" y2="500.60" stroke="#000" stroke-width="0.9" marker-start="url(#ar)"/>
<line x1="417.13" y1="524.00" x2="419.96" y2="558.84" stroke="#000" stroke-width="0.9" marker-end="url(#ar)"/>
<text transform="translate(416.58,512.30) rotate(85.35739780170232)" x="0" y="0" dy="0.36em" font-size="11" text-anchor="middle" textLength="21.00" lengthAdjust="spacingAndGlyphs" fill="#222">21.12'</text>
<line x1="456.40" y1="469.40" x2="458.50" y2="495.20" stroke="#000" stroke-width="0.9" marker-start="url(#ar)"/>
<line x1="461.09" y1="527.20" x2="463.38" y2="555.32" stroke="#000" stroke-width="0.9" marker-end="url(#ar)"/>
<text transform="translate(460.19,511.20) rotate(85.35739780170232)" x="0" y="0" dy="0.36em" font-size="11" text-anchor="middle" textLength="29.60" lengthAdjust="spacingAndGlyphs" fill="#222">20.00'</text>
<line x1="335.60" y1="514.39" x2="336.36" y2="523.70" stroke="#000" stroke-width="0.9" marker-start="url(#ar)"/>
<line x1="338.86" y1="554.50" x2="339.74" y2="565.36" stroke="#000" stroke-width="0.9" marker-end="url(#ar)"/>
<text transform="translate(338.01,539.10) rotate(85.35739780170232)" x="0" y="0" dy="0.36em" font-size="11" text-anchor="middle" textLength="28.40" lengthAdjust="spacingAndGlyphs" fill="#222">12' SB</text>
<line x1="354.66" y1="524.25" x2="358.61" y2="572.88" stroke="#000" stroke-width="0.9"/>
<path d="M354.30,532.25 L355.80,538.25 L357.30,532.25z" fill="#000"/>
<path d="M356.38,569.88 L357.88,563.88 L359.38,569.88z" fill="#000"/>
<text transform="translate(365.31,549.50) rotate(85.35739780170232)" x="0" y="0" dy="0.36em" font-size="11" text-anchor="middle" textLength="29.50" lengthAdjust="spacingAndGlyphs" fill="#222">6' PUE</text>
<line x1="258.00" y1="372.50" x2="272.70" y2="372.50" stroke="#000" stroke-width="0.9" marker-end="url(#ar)"/>
<line x1="308.80" y1="372.50" x2="294.60" y2="372.50" stroke="#000" stroke-width="0.9" marker-end="url(#ar)"/>
<line x1="272.70" y1="372.50" x2="294.60" y2="372.50" stroke="#000" stroke-width="0.7" />
<text x="270.50" y="368.80" font-size="9.6" textLength="25.10" lengthAdjust="spacingAndGlyphs" fill="#333" >5' SB</text>
<line x1="453.00" y1="352.50" x2="456.40" y2="352.50" stroke="#000" stroke-width="0.9"/>
<line x1="456.40" y1="352.50" x2="488.20" y2="352.50" stroke="#000" stroke-width="0.7" />
<line x1="502.40" y1="352.50" x2="488.20" y2="352.50" stroke="#000" stroke-width="0.9" marker-end="url(#ar)"/>
<path d="M462,350.8 L456.4,352.4 L462,354z" fill="#000"/>
<text x="464.50" y="348.60" font-size="9.6" textLength="25.50" lengthAdjust="spacingAndGlyphs" fill="#333" >5' SB</text>
<line x1="456.40" y1="378.50" x2="488.20" y2="378.50" stroke="#000" stroke-width="0.9" marker-start="url(#ar)" marker-end="url(#ar)"/>
<text x="463.00" y="374.20" font-size="9.6" textLength="20.80" lengthAdjust="spacingAndGlyphs" fill="#333" >7.33'</text>
<text transform="translate(265.30,426.80) rotate(-90)" x="0" y="0" dy="0.36em" font-size="11" text-anchor="middle" textLength="30.00" lengthAdjust="spacingAndGlyphs">72.00'</text>
<text transform="translate(495.60,420.50) rotate(-90)" x="0" y="0" dy="0.36em" font-size="11" text-anchor="middle" textLength="25.00" lengthAdjust="spacingAndGlyphs">11.40'</text>
<text transform="translate(463.50,443.50) rotate(-90)" x="0" y="0" dy="0.36em" font-size="10" text-anchor="middle" textLength="25.40" lengthAdjust="spacingAndGlyphs">GATE</text>
</svg>
</body></html>
